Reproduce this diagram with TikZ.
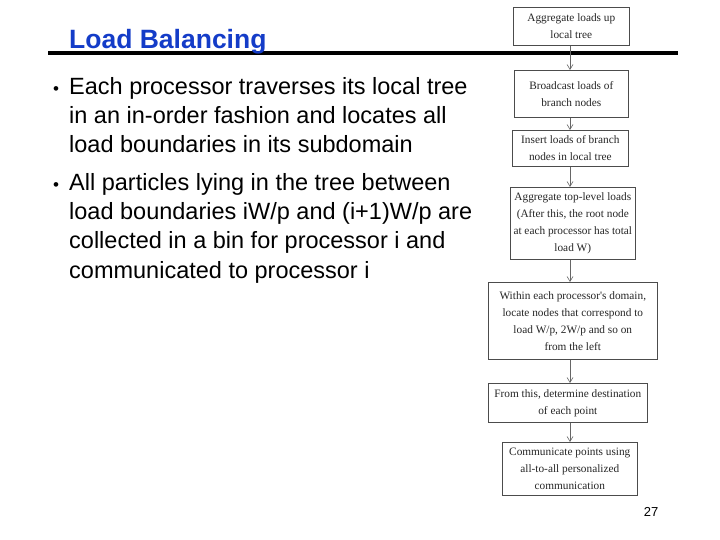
\documentclass[tikz,border=0pt]{standalone}
\usepackage{fontspec}
\setmainfont{Liberation Sans}
\newfontfamily\boxfont{Liberation Serif}
\usetikzlibrary{arrows.meta}
\definecolor{titleblue}{RGB}{20,60,200}
\begin{document}
\begin{tikzpicture}[x=1pt,y=-1pt,
  fbox/.style={draw=black!70,line width=0.6pt,font=\boxfont\fontsize{11.3}{17}\selectfont,align=center,inner sep=0pt,text=black!85},
  arr/.style={draw=black!60,line width=0.6pt,-{Straight Barb[length=5pt,width=6pt]}},
  btext/.style={anchor=base west,align=left,font=\fontsize{23.5}{29.3}\selectfont,inner sep=0pt}]
\useasboundingbox (0,0) rectangle (720,540);
\fill[white] (0,0) rectangle (720,540);
\node[fbox,minimum width=116,minimum height=38,anchor=north west] (b1) at (513,7) {Aggregate loads up\\local tree};
\draw[line width=3.5pt] (48,53) coordinate (l1) -- (678,53) coordinate (l2);
\node[fbox,minimum width=114,minimum height=47,anchor=north west] (b2) at (514,70) {Broadcast loads of\\branch nodes};
\node[fbox,minimum width=116,minimum height=36,anchor=north west] (b3) at (512,130) {Insert loads of branch\\nodes in local tree};
\node[fbox,minimum width=125,minimum height=72,anchor=north west] (b4) at (510,187) {Aggregate top-level loads\\(After this, the root node\\at each processor has total\\load W)};
\node[fbox,minimum width=169,minimum height=77,anchor=north west] (b5) at (488,282) {Within each processor's domain,\\locate nodes that correspond to\\load W/p, 2W/p and so on\\from the left};
\node[fbox,minimum width=159,minimum height=39,anchor=north west] (b6) at (488,383) {From this, determine destination\\of each point};
\node[fbox,minimum width=135,minimum height=53,anchor=north west] (b7) at (502,442) {Communicate points using\\all-to-all personalized\\communication};
\foreach \a/\b in {b1/b2,b2/b3,b3/b4,b4/b5,b5/b6,b6/b7}
  \draw[arr] (\a.south -| 570,0) -- (\b.north -| 570,0);
\node[anchor=base west,inner sep=0pt,font=\bfseries\fontsize{26.5}{28}\selectfont,text=titleblue] (title) at (69,49) {Load Balancing};
\node[anchor=base west,inner sep=0pt,font=\fontsize{17}{18}\selectfont] (d1) at (53,95) {•};
\node[btext,anchor=north west] (t1) at (69,77) {Each processor traverses its local tree\\in an in-order fashion and locates all\\load boundaries in its subdomain};
\node[anchor=base west,inner sep=0pt,font=\fontsize{17}{18}\selectfont] (d2) at (53,191) {•};
\node[btext,anchor=north west] (t2) at (69,173) {All particles lying in the tree between\\load boundaries iW/p and (i+1)W/p are\\collected in a bin for processor i and\\communicated to processor i};
\node[anchor=base,inner sep=0pt,font=\fontsize{13}{15}\selectfont] (pg) at (651,516) {27};
\end{tikzpicture}
\end{document}
